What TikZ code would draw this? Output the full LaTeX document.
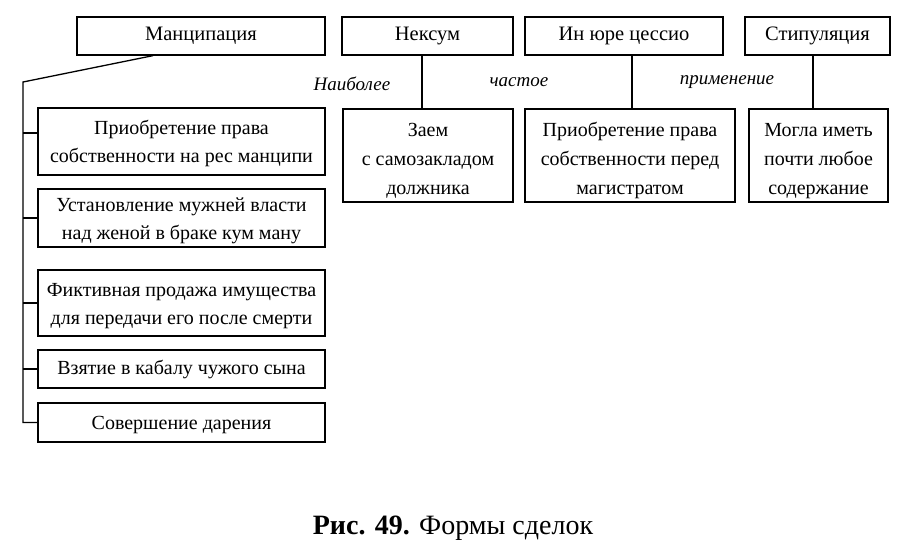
\documentclass[tikz,border=0pt]{standalone}
\usepackage{fontspec}
\setmainfont{Liberation Serif}
\begin{document}
\begin{tikzpicture}[x=1pt,y=-1pt,
  bx/.style={draw, line width=1.3pt, inner sep=0pt, align=center, font=\fontsize{20}{28}\selectfont},
  rbx/.style={bx, minimum height=93pt, font=\fontsize{20}{29}\selectfont},
  topbx/.style={bx, minimum height=38pt, font=\fontsize{20.5}{24}\selectfont},
  lbl/.style={font=\fontsize{19}{22}\selectfont\itshape, inner sep=0pt},
  ln/.style={line width=1.3pt}]
\useasboundingbox (0,0) rectangle (914,560);
\fill[white] (0,0) rectangle (914,560);
% top row
\node[topbx, minimum width=248pt] (manc) at (201,36) {Манципация};
\node[topbx, minimum width=171pt] (nex) at (427.5,36) {Нексум};
\node[topbx, minimum width=198pt] (inj) at (624,36) {Ин юре цессио};
\node[topbx, minimum width=145pt] (stip) at (817.5,36) {Стипуляция};
% left column
\node[bx, minimum width=287pt, minimum height=67pt] (b1) at (181.5,141.5) {\rule{0pt}{19pt}Приобретение права\\собственности на рес манципи};
\node[bx, minimum width=287pt, minimum height=58pt] (b2) at (181.5,218) {\rule{0pt}{19pt}Установление мужней власти\\над женой в браке кум ману};
\node[bx, minimum width=287pt, minimum height=66pt] (b3) at (181.5,303) {\rule{0pt}{19pt}Фиктивная продажа имущества\\для передачи его после смерти};
\node[bx, minimum width=287pt, minimum height=38pt] (b4) at (181.5,369) {\rule{0pt}{16pt}Взятие в кабалу чужого сына};
\node[bx, minimum width=287pt, minimum height=39pt] (b5) at (181.5,422.5) {\rule{0pt}{18pt}Совершение дарения};
% right boxes
\node[rbx, minimum width=170pt] (r1) at (428,155.5) {\rule{0pt}{24pt}Заем\\с самозакладом\\должника};
\node[rbx, minimum width=210pt] (r2) at (630,155.5) {\rule{0pt}{24pt}Приобретение права\\собственности перед\\магистратом};
\node[rbx, minimum width=139pt] (r3) at (818.5,155.5) {\rule{0pt}{24pt}Могла иметь\\почти любое\\содержание};
% labels
\node[lbl] (lab1) at (352,84) {Наиболее};
\node[lbl] (lab2) at (519,82) {частое};
\node[lbl] (lab3) at (727,82) {применение};
% connectors
\coordinate (mfoot) at ([xshift=-48pt]manc.south);
\coordinate (bend) at (23,82);
\coordinate (b1in) at ([yshift=8.5pt]b1.west);
\draw[ln] (mfoot) -- (bend) -- (bend |- b5.west) -- (b5.west);
\draw[ln] (bend |- b1in) -- (b1in);
\draw[ln] (bend |- b2.west) -- (b2.west);
\draw[ln] (bend |- b3.west) -- (b3.west);
\draw[ln] (bend |- b4.west) -- (b4.west);
\coordinate (nexf) at ([xshift=-5.5pt]nex.south);
\coordinate (injf) at ([xshift=8pt]inj.south);
\coordinate (stipf) at ([xshift=-4.5pt]stip.south);
\draw[ln] (nexf) -- (nexf |- r1.north);
\draw[ln] (injf) -- (injf |- r2.north);
\draw[ln] (stipf) -- (stipf |- r3.north);
% caption
\node[font=\fontsize{28}{32}\selectfont, inner sep=0pt] (cap) at (453,528) {\textbf{Рис. 49.} Формы сделок};
\end{tikzpicture}
\end{document}
